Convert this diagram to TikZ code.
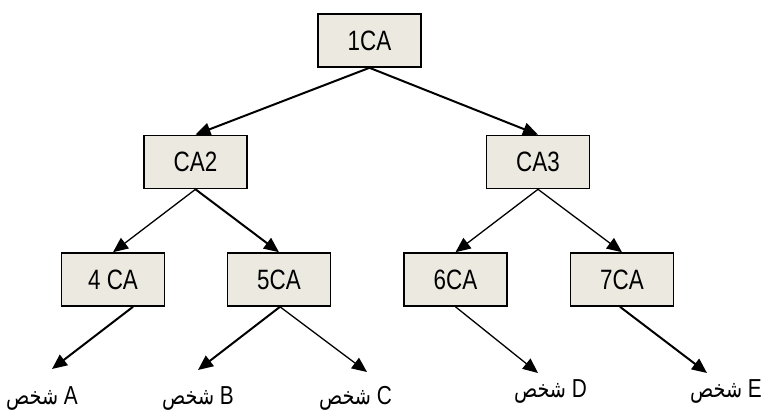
\documentclass[tikz,border=0pt]{standalone}
\usepackage{fontspec}
\setmainfont{Liberation Sans}[FakeStretch=0.8]
\newfontfamily\arabicfont[Script=Arabic,FakeStretch=0.8]{DejaVu Sans}
\TeXXeTstate=1
\usetikzlibrary{arrows.meta}
\definecolor{boxfill}{HTML}{ECEAE0}
\tikzset{
  cabox/.style={draw=black, line width=1.6pt, fill=boxfill, minimum width=103pt, minimum height=53pt, inner sep=0pt, font=\fontsize{28}{32}\selectfont},
  arr/.style={-{Triangle[length=15pt,width=13pt]}, line width=1.3pt},
  thick arr/.style={arr, line width=2pt},
  lbl/.style={inner sep=0pt, anchor=base east, font=\fontsize{26}{30}\selectfont}
}
\newcommand{\shakhs}{{\arabicfont\fontsize{24}{28}\selectfont\beginR شخص\endR}}
\begin{document}
\begin{tikzpicture}[x=1pt,y=-1pt]
\useasboundingbox (0,0) rectangle (763,412);
\node[cabox] (c1) at (369.5,40.5) {1CA};
\node[cabox] (c2) at (195.5,162) {CA2};
\node[cabox] (c3) at (538,162) {CA3};
\node[cabox] (c4) at (113,279.5) {4 CA};
\node[cabox] (c5) at (279,279.5) {5CA};
\node[cabox] (c6) at (455.5,279.5) {6CA};
\node[cabox] (c7) at (622,279.5) {7CA};

\node[lbl] (la) at (78,404) {\shakhs{} A};
\node[lbl] (lb) at (234,404) {\shakhs{} B};
\node[lbl] (lc) at (392,404) {\shakhs{} C};
\node[lbl] (ld) at (587,397) {\shakhs{} D};
\node[lbl] (le) at (762,397) {\shakhs{} E};

\coordinate (ta) at (52,369);
\coordinate (tb) at (198,370);
\coordinate (tc) at (367,372);
\coordinate (td) at (538,373);
\coordinate (te) at (707,373);

\draw[thick arr] (c1.south) -- (c2.north);
\draw[thick arr] (c1.south) -- (c3.north);
\draw[arr] (c2.south) -- (c4.north);
\draw[thick arr] (c2.south) -- (c5.north);
\draw[arr] (c3.south) -- (c6.north);
\draw[arr] (c3.south) -- (c7.north);

\draw[thick arr] ([xshift=20pt]c4.south) -- (ta);
\draw[thick arr] ([xshift=1pt]c5.south) -- (tb);
\draw[arr] ([xshift=1pt]c5.south) -- (tc);
\draw[arr] ([xshift=0pt]c6.south) -- (td);
\draw[thick arr] ([xshift=-2pt]c7.south) -- (te);
\end{tikzpicture}
\end{document}
